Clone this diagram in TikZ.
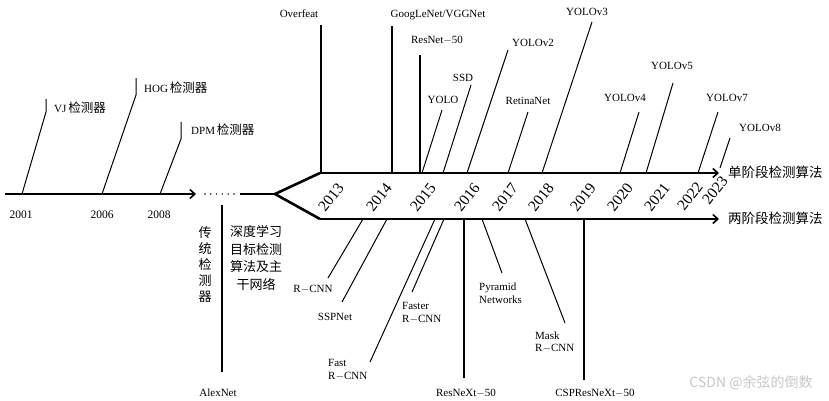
\documentclass[tikz,border=0pt]{standalone}
\usepackage{fontspec}
\setmainfont{Liberation Serif}
\newfontfamily\cjk{Noto Sans CJK SC}
\usetikzlibrary{arrows.meta}
\newcommand{\dsh}{\hbox{\raisebox{0pt}{$-$}}}
\begin{document}
\begin{tikzpicture}[x=1pt,y=-1pt,
  axisline/.style={line width=2.6pt,-{Straight Barb[length=5pt,width=9pt,line width=1.6pt]}},
  bar/.style={line width=2.6pt},
  thinline/.style={line width=1pt},
  lbl/.style={font=\fontsize{11}{12.5}\selectfont,inner sep=0pt,align=left},
  yr/.style={font=\fontsize{15.5}{15.5}\selectfont,inner sep=0pt,rotate=52},
  zh/.style={font=\cjk\fontsize{13}{17.5}\selectfont,inner sep=0pt,align=center},
  yrlbl/.style={font=\fontsize{11.5}{12}\selectfont,inner sep=0pt}]
\useasboundingbox (0,0) rectangle (829,400);

% traditional timeline
\coordinate (t0) at (5,194);
\coordinate (t1) at (196,194);
\draw[axisline] (t0) -- (t1);
\coordinate (d0) at (205,194);
\coordinate (d1) at (235,194);
\draw[line width=1.6pt,line cap=round,dash pattern=on 0pt off 5.8pt] (d0) -- (d1);
\coordinate (m0) at (240,194);
\coordinate (br) at (275,194);
\coordinate (u0) at (320,173);
\coordinate (l0) at (320,219);
\coordinate (u1) at (719,173);
\coordinate (l1) at (719,219);
\draw[bar] (m0) -- (br);
\draw[bar,line join=miter] (u0) -- (br) -- (l0);
\draw[axisline] (u0) -- (u1);
\draw[axisline] (l0) -- (l1);

% years of traditional detectors
\node[yrlbl] (y2001) at (21,215) {2001};
\node[yrlbl] (y2006) at (102,215) {2006};
\node[yrlbl] (y2008) at (159,215) {2008};

% VJ, HOG, DPM
\coordinate (vjb) at (22,194);
\coordinate (vjt) at (46,112);
\coordinate (vjk) at (46,99);
\draw[thinline] (vjb) -- (vjt) -- (vjk);
\node[lbl,anchor=west] (vj) at (54,108) {VJ\,{\cjk\fontsize{12.5}{13}\selectfont 检测器}};
\coordinate (hgb) at (102,194);
\coordinate (hgt) at (136,95);
\coordinate (hgk) at (136,78);
\draw[thinline] (hgb) -- (hgt) -- (hgk);
\node[lbl,anchor=west] (hog) at (144,88) {HOG\,{\cjk\fontsize{12.5}{13}\selectfont 检测器}};
\coordinate (dpb) at (160,194);
\coordinate (dpt) at (181,139);
\coordinate (dpk) at (181,122);
\draw[thinline] (dpb) -- (dpt) -- (dpk);
\node[lbl,anchor=west] (dpm) at (191,130) {DPM\,{\cjk\fontsize{12.5}{13}\selectfont 检测器}};

% deep learning years
\foreach \yv/\xx/\yy in {2013/331/197,2014/379/197,2015/423/197,2016/467/197,2017/505/197,2018/541/197,2019/583/197,2020/620/197,2021/657/197,2022/690/196,2023/715/190}
  \node[yr] (yr\yv) at (\xx,\yy) {\yv};

% single-stage / backbone above
\node[lbl,anchor=south] (overfeat) at (299,18) {Overfeat};
\coordinate (ofb) at (321,173);
\coordinate (oft) at (321,25);
\draw[bar] (ofb) -- (oft);

\node[lbl,anchor=south] (googlenet) at (438,20) {GoogLeNet/VGGNet};
\coordinate (ggb) at (392,173);
\coordinate (ggt) at (392,26);
\draw[bar] (ggb) -- (ggt);

\node[lbl,anchor=south] (resnet) at (437,45) {ResNet\dsh 50};
\coordinate (rsb) at (420,173);
\coordinate (rst) at (420,55);
\draw[bar] (rsb) -- (rst);

\node[lbl,anchor=south] (yolo) at (443,104) {YOLO};
\coordinate (yob) at (422,173);
\coordinate (yot) at (442,110);
\draw[thinline] (yob) -- (yot);

\node[lbl,anchor=south] (ssd) at (463,82) {SSD};
\coordinate (sdb) at (443,173);
\coordinate (sdt) at (471,85);
\draw[thinline] (sdb) -- (sdt);

\node[lbl,anchor=south] (yolov2) at (533,47) {YOLOv2};
\coordinate (y2b) at (467,173);
\coordinate (y2t) at (508,50);
\draw[thinline] (y2b) -- (y2t);

\node[lbl,anchor=south] (retina) at (528,105) {RetinaNet};
\coordinate (rnb) at (508,173);
\coordinate (rnt) at (528,112);
\draw[thinline] (rnb) -- (rnt);

\node[lbl,anchor=south] (yolov3) at (587,16) {YOLOv3};
\coordinate (y3b) at (542,173);
\coordinate (y3t) at (592,22);
\draw[thinline] (y3b) -- (y3t);

\node[lbl,anchor=south] (yolov4) at (625,102) {YOLOv4};
\coordinate (y4b) at (620,173);
\coordinate (y4t) at (639,112);
\draw[thinline] (y4b) -- (y4t);

\node[lbl,anchor=south] (yolov5) at (672,70) {YOLOv5};
\coordinate (y5b) at (646,173);
\coordinate (y5t) at (673,83);
\draw[thinline] (y5b) -- (y5t);

\node[lbl,anchor=south] (yolov7) at (727,102) {YOLOv7};
\coordinate (y7b) at (698,173);
\coordinate (y7t) at (718,112);
\draw[thinline] (y7b) -- (y7t);

\node[lbl,anchor=south] (yolov8) at (760,132) {YOLOv8};
\coordinate (y8b) at (720,168);
\coordinate (y8t) at (730,138);
\draw[thinline] (y8b) -- (y8t);

\node[zh,anchor=west,font=\cjk\fontsize{13.5}{14}\selectfont] (single) at (728,172) {单阶段检测算法};
\node[zh,anchor=west,font=\cjk\fontsize{13.5}{14}\selectfont] (two) at (728,218) {两阶段检测算法};

% below
\coordinate (axt) at (222,205);
\coordinate (axb) at (222,372);
\draw[bar] (axt) -- (axb);
\node[lbl] (alexnet) at (218,393) {AlexNet};
\node[zh,font=\cjk\fontsize{13}{16}\selectfont] (trad) at (205,265) {传\\统\\检\\测\\器};
\node[zh] (deep) at (256,258) {深度学习\\目标检测\\算法及主\\干网络};

\coordinate (rcb) at (363,219);
\coordinate (rct) at (328,278);
\draw[thinline] (rcb) -- (rct);
\node[lbl] (rcnn) at (313,289) {R\dsh CNN};

\coordinate (spb) at (387,219);
\coordinate (spt) at (342,302);
\draw[thinline] (spb) -- (spt);
\node[lbl] (sppnet) at (335,317) {SSPNet};

\coordinate (fsb) at (435,219);
\coordinate (fst) at (370,362);
\draw[thinline] (fsb) -- (fst);
\node[lbl,anchor=west] (fast) at (328,370) {Fast\\R\dsh CNN};

\coordinate (frb) at (444,219);
\coordinate (frt) at (412,292);
\draw[thinline] (frb) -- (frt);
\node[lbl,anchor=west] (faster) at (402,313) {Faster\\R\dsh CNN};

\coordinate (rxb) at (464,219);
\coordinate (rxt) at (464,378);
\draw[bar] (rxb) -- (rxt);
\node[lbl] (resnext) at (466,393) {ResNeXt\dsh 50};

\coordinate (pyb) at (482,219);
\coordinate (pyt) at (502,273);
\draw[thinline] (pyb) -- (pyt);
\node[lbl,anchor=west] (pyramid) at (479,293) {Pyramid\\Networks};

\coordinate (mkb) at (525,219);
\coordinate (mkt) at (565,323);
\draw[thinline] (mkb) -- (mkt);
\node[lbl,anchor=west] (mask) at (535,342) {Mask\\R\dsh CNN};

\coordinate (csb) at (584,219);
\coordinate (cst) at (584,380);
\draw[bar] (csb) -- (cst);
\node[lbl] (csp) at (595,393) {CSPResNeXt\dsh 50};

\node[font=\cjk\fontsize{14}{15}\selectfont,text=black!22,inner sep=0pt] (wm) at (751,383) {CSDN @余弦的倒数};
\end{tikzpicture}
\end{document}
